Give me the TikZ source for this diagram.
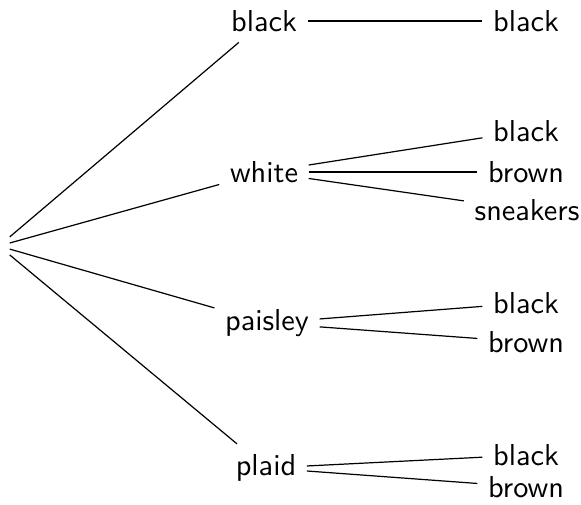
\documentclass[tikz,border=0pt]{standalone}
\begin{document}
\begin{tikzpicture}[x=0.33pt,y=-0.33pt,
  lbl/.style={font=\sffamily},
  edge/.style={draw=black,line width=0.4pt}]
\useasboundingbox (0,0) rectangle (581,504);
\node[lbl] (r) at (-1,246) {};
\node[lbl] (a) at (264,21) {black};
\node[lbl] (b) at (264,172) {white};
\node[lbl] (c) at (267,323) {paisley};
\node[lbl] (d) at (266,468) {plaid};
\node[lbl] (a1) at (526,21) {black};
\node[lbl] (b1) at (526,131) {black};
\node[lbl] (b2) at (526,172) {brown};
\node[lbl] (b3) at (527,210) {sneakers};
\node[lbl] (c1) at (526,303) {black};
\node[lbl] (c2) at (526,342) {brown};
\node[lbl] (d1) at (526,455) {black};
\node[lbl] (d2) at (526,487) {brown};
\draw[edge] (r) -- (a);
\draw[edge] (r) -- (b);
\draw[edge] (r) -- (c);
\draw[edge] (r) -- (d);
\draw[edge] (a) -- (a1);
\draw[edge] (b) -- (b1);
\draw[edge] (b) -- (b2);
\draw[edge] (b) -- (b3);
\draw[edge] (c) -- (c1);
\draw[edge] (c) -- (c2);
\draw[edge] (d) -- (d1);
\draw[edge] (d) -- (d2);
\end{tikzpicture}
\end{document}
